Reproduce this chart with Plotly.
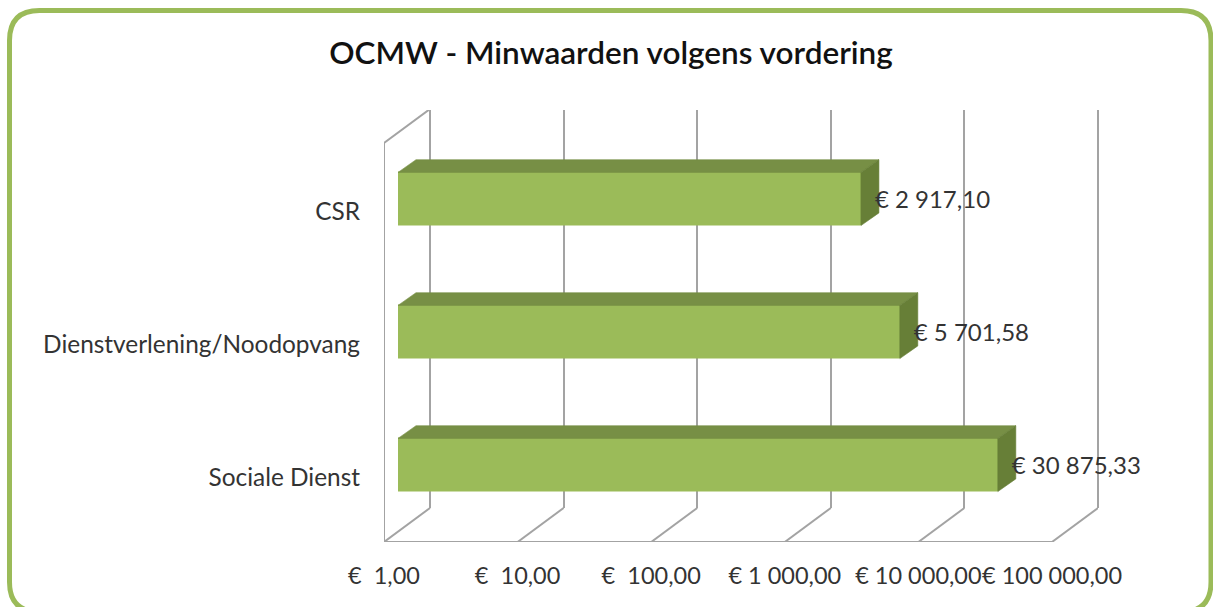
import plotly.graph_objects as go

# ---- data ----
categories = ["Sociale Dienst", "Dienstverlening/Noodopvang", "CSR"]
values = [30875.33, 5701.58, 2917.10]
value_labels = ["€ 30 875,33", "€ 5 701,58", "€ 2 917,10"]
tick_values = [1, 10, 100, 1000, 10000, 100000]
tick_labels = ["€  1,00", "€  10,00", "€  100,00", "€ 1 000,00", "€ 10 000,00", "€ 100 000,00"]
title_text = "OCMW - Minwaarden volgens vordering"

# ---- layout geometry ----
W, H = 1213, 607
FONT = "Lato, Calibri, sans-serif"
GREEN, TOP, SIDE = "#9BBB59", "#778F45", "#677F37"
GRID = "#A3A3A3"
LW = 2
DEC = 133.6   # px per decade
CAT = 133.0   # px per category
PAD = 0.01    # small axis overshoot so the end gridlines are kept


def dom_x(a, b):
    return [a / W, b / W]


def dom_y(top, bottom):
    return [1 - bottom / H, 1 - top / H]


pos = list(range(len(categories)))
fig = go.Figure()

# Invisible carrier so the back-wall axes (native vertical gridlines) get drawn first
fig.add_trace(go.Scatter(x=[1], y=[0], mode="markers", marker=dict(opacity=0), xaxis="x", yaxis="y",
                         hoverinfo="skip", showlegend=False))

# Wireframe, on an axis pair that spans the whole box (front plane + wall depth)
wall_dx = 10 ** (46 / DEC)
wall_dy = 34 / CAT
line = dict(color=GRID, width=LW)
for t in tick_values:
    fig.add_trace(go.Scatter(
        x=[t, t * wall_dx], y=[-0.5, -0.5 + wall_dy], mode="lines", xaxis="x2", yaxis="y2",
        line=line, cliponaxis=False, hoverinfo="skip", showlegend=False))
fig.add_trace(go.Scatter(
    x=[1, wall_dx], y=[2.5, 2.5 + wall_dy], mode="lines", xaxis="x2", yaxis="y2",
    line=line, cliponaxis=False, hoverinfo="skip", showlegend=False))
fig.add_trace(go.Scatter(
    x=[1, 1], y=[-0.5, 2.5], mode="lines", xaxis="x2", yaxis="y2",
    line=line, cliponaxis=False, hoverinfo="skip", showlegend=False))
fig.add_trace(go.Scatter(
    x=[1, tick_values[-1]], y=[-0.5, -0.5], mode="lines", xaxis="x2", yaxis="y2",
    line=line, cliponaxis=False, hoverinfo="skip", showlegend=False))

# Invisible carrier so the front-plane axes own the tick labels
fig.add_trace(go.Scatter(x=[1], y=[0], mode="markers", marker=dict(opacity=0), xaxis="x4", yaxis="y4",
                         hoverinfo="skip", showlegend=False))

# Bars, on the bar plane axes
half = 0.2
bar_dx = 10 ** (18 / DEC)
bar_dy = 12.7 / CAT
fig.add_trace(go.Bar(
    x=values, y=pos, orientation="h", width=2 * half, xaxis="x3", yaxis="y3",
    marker=dict(color=GREEN, line=dict(width=1, color=GREEN)), hovertext=categories,
    hoverinfo="text+x", showlegend=False))
for c, v in zip(pos, values):
    fig.add_trace(go.Scatter(
        x=[1, bar_dx, v * bar_dx, v, 1],
        y=[c + half, c + half + bar_dy, c + half + bar_dy, c + half, c + half],
        mode="lines", fill="toself", fillcolor=TOP, line=dict(width=0.6, color=TOP),
        xaxis="x3", yaxis="y3", hoverinfo="skip", showlegend=False))
    fig.add_trace(go.Scatter(
        x=[v, v * bar_dx, v * bar_dx, v, v],
        y=[c + half, c + half + bar_dy, c - half + bar_dy, c - half, c + half],
        mode="lines", fill="toself", fillcolor=SIDE, line=dict(width=0.6, color=SIDE),
        xaxis="x3", yaxis="y3", hoverinfo="skip", showlegend=False))

# Value labels
fig.add_trace(go.Scatter(
    x=[v * 10 ** (14 / DEC) for v in values], y=[p - 3 / CAT for p in pos],
    text=value_labels, mode="text",
    textposition="middle right", textfont=dict(family=FONT, size=24, color="#333333"),
    xaxis="x3", yaxis="y3", cliponaxis=False, hoverinfo="skip", showlegend=False))

hidden = dict(visible=False, fixedrange=True, automargin=False)
box_x = (1098 - 384) / DEC
box_y = -0.5 + (542 - 110) / CAT

fig.update_layout(
    template="none",
    width=W, height=H, autosize=False,
    margin=dict(l=0, r=0, t=0, b=0, pad=0, autoexpand=False),
    paper_bgcolor="white", plot_bgcolor="rgba(0,0,0,0)",
    bargap=0,
    font=dict(family=FONT, size=24, color="#333333"),
    title=dict(text=title_text, x=611 / W, xref="paper", xanchor="center",
               y=1 - 53 / H, yref="paper", yanchor="middle",
               font=dict(family=FONT, size=31.5, color="#111111", weight=600)),
    # back wall: native vertical gridlines
    xaxis=dict(type="log", range=[-PAD, 5 + PAD], domain=dom_x(430 - PAD * DEC, 1098 + PAD * DEC), anchor="y",
               tickmode="array", tickvals=tick_values, showgrid=True, gridcolor=GRID, gridwidth=LW,
               showticklabels=False, ticks="", zeroline=False, showline=False, fixedrange=True,
               automargin=False),
    yaxis=dict(range=[-0.5, 2.5], domain=dom_y(110, 508), anchor="x", fixedrange=True,
               showgrid=False, zeroline=False, showline=False, showticklabels=False, ticks="",
               automargin=False),
    # wireframe box
    xaxis2=dict(type="log", range=[0, box_x], domain=dom_x(384, 1098), anchor="y2", **hidden),
    yaxis2=dict(range=[-0.5, box_y], domain=dom_y(110, 542), anchor="x2", **hidden),
    # bar plane
    xaxis3=dict(type="log", range=[0, 5], domain=dom_x(398, 1066), anchor="y3", **hidden),
    yaxis3=dict(range=[-0.5, 2.5], domain=dom_y(132.5, 531.5), anchor="x3", **hidden),
    # front plane: tick labels
    xaxis4=dict(type="log", range=[0, 5], domain=dom_x(384, 1052), anchor="y4",
                tickmode="array", tickvals=tick_values, ticktext=tick_labels, ticks="", tickangle=0,
                showgrid=False, showline=False, zeroline=False,
                ticklabelstandoff=15, tickfont=dict(family=FONT, size=23.5, color="#333333"),
                fixedrange=True, automargin=False),
    yaxis4=dict(range=[-0.5, 2.5], domain=dom_y(145, 544), anchor="x4",
                tickmode="array", tickvals=pos, ticktext=categories, ticks="",
                showgrid=False, showline=False, zeroline=False,
                ticklabelstandoff=23, tickfont=dict(family=FONT, size=24.4, color="#333333"),
                fixedrange=True, automargin=False),
)

# Rounded green frame in page coordinates
L, T, R, B, r = 9.5 / W, 10.5 / H, 1211 / W, 612 / H, 30
rx, ry = r / W, r / H


def py(v):
    return 1 - v


frame = (f"M {L + rx} {py(T)} L {R - rx} {py(T)} Q {R} {py(T)} {R} {py(T + ry)} "
         f"L {R} {py(B - ry)} Q {R} {py(B)} {R - rx} {py(B)} "
         f"L {L + rx} {py(B)} Q {L} {py(B)} {L} {py(B - ry)} "
         f"L {L} {py(T + ry)} Q {L} {py(T)} {L + rx} {py(T)} Z")
fig.add_shape(type="path", path=frame, xref="paper", yref="paper", layer="above",
              line=dict(color=GREEN, width=5), fillcolor="rgba(0,0,0,0)")

fig.write_html("out.html", config=dict(displayModeBar=False),
               post_script="document.body.style.margin='0';")
